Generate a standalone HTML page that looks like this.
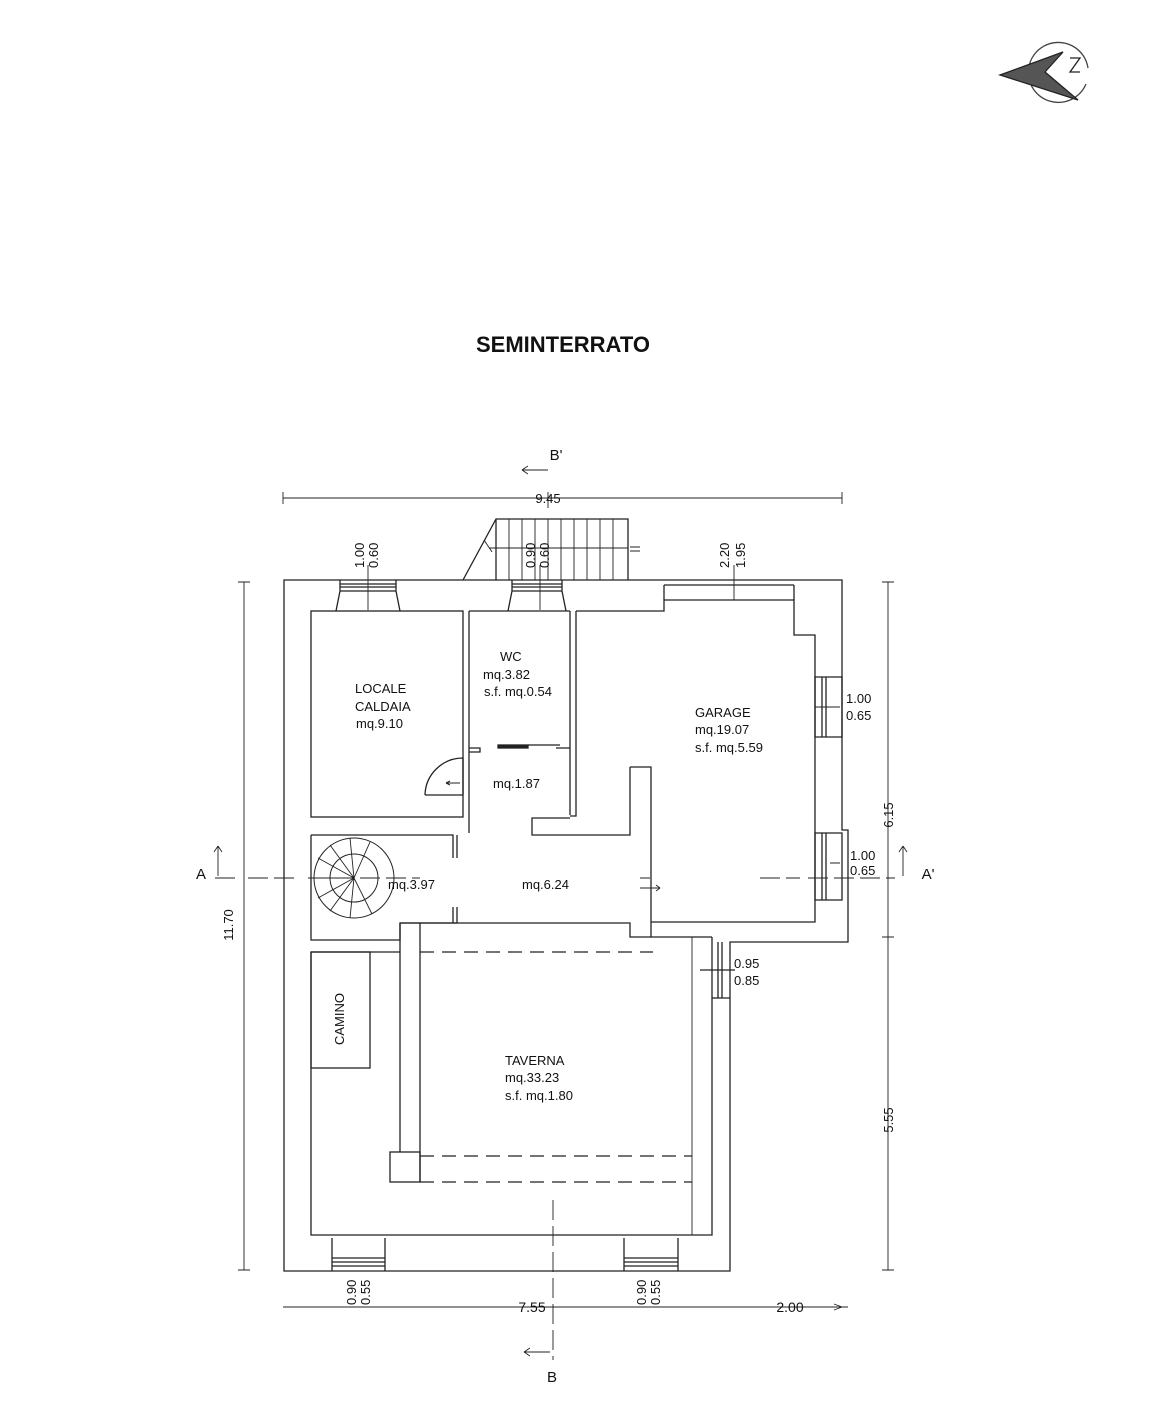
<!DOCTYPE html>
<html><head><meta charset="utf-8"><style>
html,body{margin:0;padding:0;background:#fff}
svg{display:block}
text{font-family:"Liberation Sans",Arial,sans-serif;fill:#111}
</style></head><body>
<svg width="1153" height="1407" viewBox="0 0 1153 1407" xmlns="http://www.w3.org/2000/svg">
<g fill="none" stroke="#222" stroke-width="1.3">
<!-- compass -->
<path d="M1088 68 A30 30 0 1 0 1086 84" stroke="#444"/>
<polygon points="1000,75 1063,52 1045,72 1078,100" fill="#555" stroke="#222"/>
<path d="M1070 58 h10 l-10 14 h10" stroke="#222"/>
<!-- outer wall -->
<path d="M284 580 H842 V830 H848 V942 H730 V1271 H284 Z"/>
<!-- locale caldaia -->
<rect x="311" y="611" width="152" height="206"/>
<!-- WC -->
<path d="M469 611 V833 M570 611 V815 M469 611 H570"/>
<path d="M469 748 H480 V752 H469 M570 748 H556"/>
<rect x="498" y="745" width="30" height="3" fill="#222"/>
<path d="M528 745 H560"/>
<!-- door swing -->
<path d="M463 795 H425 M425 795 A38 38 0 0 1 463 758 V795"/>
<path d="M460 783 H446 M446 783 l4 -2 M446 783 l4 2" stroke-width="1"/>
<!-- garage -->
<path d="M576 611 V816 H570 M576 611 H664 V600 H794 V635 H815 V922 H651"/>
<path d="M664 585 V600 M794 585 V600 M664 585 H794"/>
<path d="M630 767 H651 V937 H712 M630 767 V835 H532 V818 H570"/>
<!-- garage windows -->
<path d="M815 677 H842 V737 H815 Z M822 677 V737 M826 677 V737"/>
<path d="M815 833 H842 V900 H815 Z M822 833 V900 M826 833 V900"/>
<!-- spiral stair room -->
<path d="M311 835 H453 V858 M457 835 V858 M453 907 V923 M457 907 V923 M311 835 V940 H400 V923 H457"/>
<path d="M400 923 H630 V937 H651" />
<circle cx="354" cy="878" r="40" stroke-width="1"/>
<circle cx="354" cy="878" r="24" stroke-width="1"/>
<g stroke-width="0.9">
<path d="M354 878 L314 878 M354 878 L318 858 M354 878 L330 845 M354 878 L350 838 M354 878 L370 842 M354 878 L318 898 M354 878 L330 911 M354 878 L350 918 M354 878 L372 914"/>
</g>
<!-- taverna -->
<path d="M311 952 H400 M311 952 V1235 H712 V937"/>
<path d="M692 937 V1235" stroke-width="0.9"/>
<path d="M420 952 H653" stroke-dasharray="14,8"/>
<path d="M400 923 V1152 M420 923 V1182" />
<rect x="390" y="1152" width="30" height="30"/>
<path d="M420 1156 H692 M420 1182 H692" stroke-dasharray="14,8"/>
<rect x="311" y="952" width="59" height="116"/>
<path d="M712 998 H730 M718 942 V998 M722 942 V998 M700 970 H735"/>
<!-- top windows -->
<path d="M336 611 L340 591 H396 L400 611 M340 591 V580 M396 591 V580 M340 587 H396 M340 584 H396"/>
<path d="M508 611 L512 591 H562 L566 611 M512 591 V580 M562 591 V580 M512 587 H562 M512 584 H562"/>
<!-- bottom windows -->
<path d="M332 1238 V1271 M385 1238 V1271 M332 1258 H385 M332 1262 H385 M332 1266 H385"/>
<path d="M624 1238 V1271 M678 1238 V1271 M624 1258 H678 M624 1262 H678 M624 1266 H678"/>
<!-- outside stairs -->
<path d="M463 580 L496 519 H628 V580 M496 519 V580"/>
<g stroke-width="0.9">
<path d="M509 519 V580 M522 519 V580 M535 519 V580 M548 519 V580 M561 519 V580 M574 519 V580 M587 519 V580 M600 519 V580 M613 519 V580 M628 548 H489 M484 540 L492 552"/>
<path d="M630 547 H640 M630 551 H640"/>
</g>
<!-- dimension lines -->
<g stroke-width="0.9">
<path d="M283 498 H842 M283 492 V504 M842 492 V504 M548 492 V508"/>
<path d="M283 1307 H848 M842 1307 l-8 -3 M842 1307 l-8 3"/>
<path d="M244 582 V1270 M238 582 H250 M238 1270 H250"/>
<path d="M888 582 V1270 M882 582 H894 M882 937 H894 M882 1270 H894"/>
<path d="M368 565 V610 M540 565 V610 M734 565 V600"/>
<path d="M215 878 H240 M248 878 H300 M308 878 H420 M640 878 H650 M760 878 H800 M808 878 H895" stroke-dasharray="20,6"/>
<path d="M553 1200 V1360" stroke-dasharray="20,6"/>
<path d="M815 707 H840 M830 863 H840"/>
<path d="M218 876 V846 M218 846 l-4 6 M218 846 l4 6"/>
<path d="M903 876 V846 M903 846 l-4 6 M903 846 l4 6"/>
<path d="M548 470 H522 M522 470 l6 -4 M522 470 l6 4"/>
<path d="M550 1352 H524 M524 1352 l6 -4 M524 1352 l6 4"/>
<path d="M640 888 H660 M660 888 l-4 -3 M660 888 l-4 3"/>
</g>
</g>
<!-- text -->
<text x="563" y="352" font-size="22" font-weight="bold" text-anchor="middle">SEMINTERRATO</text>
<g font-size="13">
<text x="548" y="503" text-anchor="middle">9.45</text>
<text x="355" y="693">LOCALE</text>
<text x="355" y="711">CALDAIA</text>
<text x="356" y="728">mq.9.10</text>
<text x="500" y="661">WC</text>
<text x="483" y="679">mq.3.82</text>
<text x="484" y="696">s.f. mq.0.54</text>
<text x="695" y="717">GARAGE</text>
<text x="695" y="734">mq.19.07</text>
<text x="695" y="752">s.f. mq.5.59</text>
<text x="493" y="788">mq.1.87</text>
<text x="388" y="889">mq.3.97</text>
<text x="522" y="889">mq.6.24</text>
<text x="505" y="1065">TAVERNA</text>
<text x="505" y="1082">mq.33.23</text>
<text x="505" y="1100">s.f. mq.1.80</text>
<text x="846" y="703">1.00</text>
<text x="846" y="720">0.65</text>
<text x="850" y="860">1.00</text>
<text x="850" y="875">0.65</text>
<text x="734" y="968">0.95</text>
<text x="734" y="985">0.85</text>
<text x="532" y="1312" text-anchor="middle" font-size="14">7.55</text>
<text x="790" y="1312" text-anchor="middle" font-size="14">2.00</text>
<text x="201" y="879" font-size="15" text-anchor="middle">A</text>
<text x="928" y="879" font-size="15" text-anchor="middle">A'</text>
<text x="556" y="460" font-size="15" text-anchor="middle">B'</text>
<text x="552" y="1382" font-size="15" text-anchor="middle">B</text>
<text transform="translate(344,1045) rotate(-90)">CAMINO</text>
<text transform="translate(233,925) rotate(-90)" text-anchor="middle">11.70</text>
<text transform="translate(893,815) rotate(-90)" text-anchor="middle">6.15</text>
<text transform="translate(893,1120) rotate(-90)" text-anchor="middle">5.55</text>
<text transform="translate(364,568) rotate(-90)">1.00</text>
<text transform="translate(378,568) rotate(-90)">0.60</text>
<text transform="translate(535,568) rotate(-90)">0.90</text>
<text transform="translate(549,568) rotate(-90)">0.60</text>
<text transform="translate(729,568) rotate(-90)">2.20</text>
<text transform="translate(745,568) rotate(-90)">1.95</text>
<text transform="translate(356,1305) rotate(-90)">0.90</text>
<text transform="translate(370,1305) rotate(-90)">0.55</text>
<text transform="translate(646,1305) rotate(-90)">0.90</text>
<text transform="translate(660,1305) rotate(-90)">0.55</text>
</g>
</svg>
</body></html>
